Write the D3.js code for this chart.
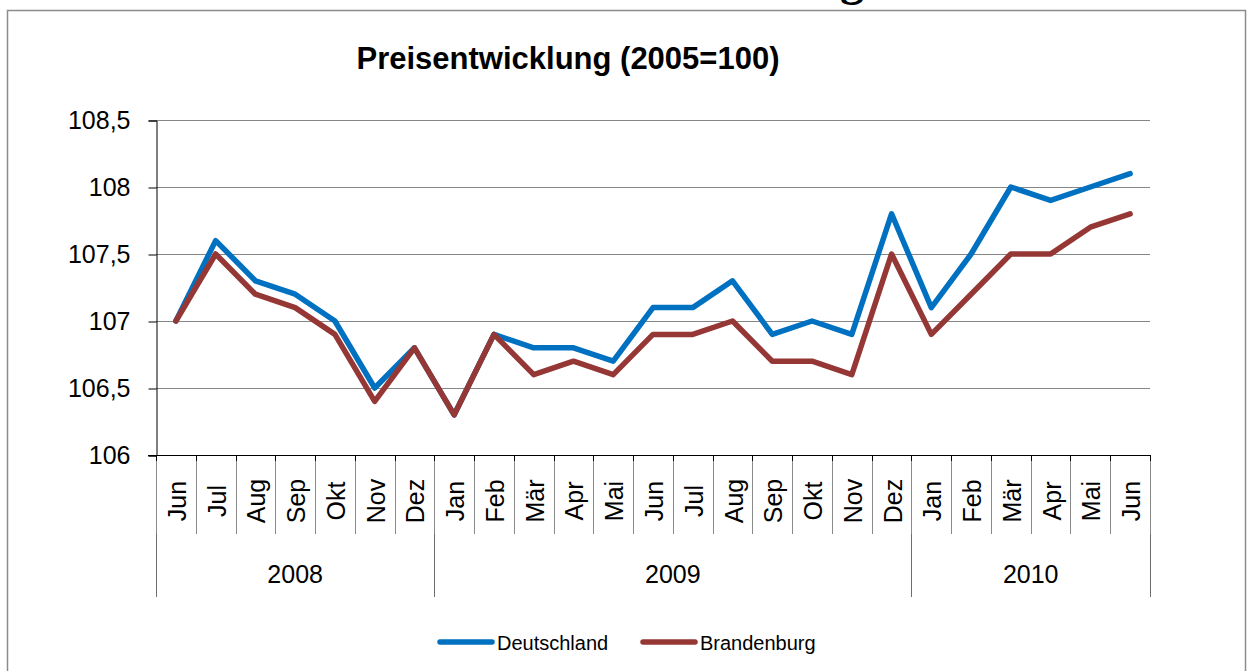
<!DOCTYPE html>
<html>
<head>
<meta charset="utf-8">
<script src="https://cdn.jsdelivr.net/npm/d3@7"></script>
<style>
  body { margin: 0; background: #fff; }
  svg { display: block; font-family: "Liberation Sans", Arial, sans-serif; }
</style>
</head>
<body>
<svg id="chart" width="1247" height="671"></svg>
<script>
// Data
const months = ["Jun","Jul","Aug","Sep","Okt","Nov","Dez",
                "Jan","Feb","Mär","Apr","Mai","Jun","Jul","Aug","Sep","Okt","Nov","Dez",
                "Jan","Feb","Mär","Apr","Mai","Jun"];
const years = [
  { label: "2008", count: 7 },
  { label: "2009", count: 12 },
  { label: "2010", count: 6 }
];
const deutschland = [107.0,107.6,107.3,107.2,107.0,106.5,106.8,
                     106.3,106.9,106.8,106.8,106.7,107.1,107.1,107.3,106.9,107.0,106.9,107.8,
                     107.1,107.5,108.0,107.9,108.0,108.1];
const brandenburg = [107.0,107.5,107.2,107.1,106.9,106.4,106.8,
                     106.3,106.9,106.6,106.7,106.6,106.9,106.9,107.0,106.7,106.7,106.6,107.5,
                     106.9,107.2,107.5,107.5,107.7,107.8];
const yTicks = [106, 106.5, 107, 107.5, 108, 108.5];
const series = [
  { name: "Deutschland", values: deutschland, colour: "#0070C0" },
  { name: "Brandenburg", values: brandenburg, colour: "#953735" }
];

const svg = d3.select("#chart");

// cut-off heading above the chart frame (only the descender shows)
svg.append("text")
    .attr("x", 864)
    .attr("y", -5)
    .attr("text-anchor", "end")
    .attr("font-family", "Liberation Serif, Times New Roman, serif")
    .attr("font-weight", "bold")
    .attr("font-size", 48)
    .text("Preisentwicklung");

// chart frame
svg.append("rect")
    .attr("x", 7.5).attr("y", 10.5)
    .attr("width", 1238).attr("height", 680)
    .attr("fill", "none")
    .attr("stroke", "#8c8c8c")
    .attr("stroke-width", 1.5);

// title
svg.append("text")
    .attr("x", 568)
    .attr("y", 69)
    .attr("text-anchor", "middle")
    .attr("font-weight", "bold")
    .attr("font-size", 31)
    .text("Preisentwicklung (2005=100)");

const plotLeft = 156, plotRight = 1150, plotTop = 120, plotBottom = 455;

const x = d3.scaleBand()
    .domain(d3.range(months.length))
    .range([plotLeft, plotRight]);

const y = d3.scaleLinear()
    .domain([106, 108.5])
    .range([plotBottom, plotTop]);

// gridlines
svg.append("g")
    .selectAll("line")
    .data(yTicks.slice(1))
    .enter().append("line")
    .attr("x1", plotLeft).attr("x2", plotRight)
    .attr("y1", d => Math.round(y(d)) + 0.5)
    .attr("y2", d => Math.round(y(d)) + 0.5)
    .attr("stroke", "#868686")
    .attr("stroke-width", 1.2);

// y axis
const yAxis = svg.append("g")
    .attr("transform", "translate(" + (plotLeft + 0.5) + ",0.5)")
    .call(d3.axisLeft(y)
        .tickValues(yTicks)
        .tickSize(8)
        .tickPadding(18)
        .tickFormat(d => String(d).replace(".", ",")));
yAxis.select(".domain").attr("stroke", "#000");
yAxis.selectAll(".tick line").attr("stroke", "#000");
yAxis.selectAll(".tick text")
    .attr("font-size", 25)
    .attr("font-family", "Liberation Sans, Arial, sans-serif")
    .attr("fill", "#000");

// x axis line
svg.append("line")
    .attr("x1", plotLeft - 8).attr("x2", plotRight)
    .attr("y1", plotBottom + 0.5).attr("y2", plotBottom + 0.5)
    .attr("stroke", "#000");

// month separators
const boundaries = d3.range(months.length + 1).map(i => plotLeft + i * x.step());
svg.append("g")
    .selectAll("line")
    .data(boundaries)
    .enter().append("line")
    .attr("x1", d => Math.round(d) + 0.5).attr("x2", d => Math.round(d) + 0.5)
    .attr("y1", plotBottom).attr("y2", 534)
    .attr("stroke", "#8a8a8a");
svg.append("g")
    .selectAll("line")
    .data(boundaries)
    .enter().append("line")
    .attr("x1", d => Math.round(d) + 0.5).attr("x2", d => Math.round(d) + 0.5)
    .attr("y1", plotBottom).attr("y2", plotBottom + 6)
    .attr("stroke", "#000");

// month labels
svg.append("g")
    .selectAll("text")
    .data(months)
    .enter().append("text")
    .attr("transform", (d, i) => "translate(" + (x(i) + x.bandwidth() / 2 + 1) + ",501) rotate(-90)")
    .attr("text-anchor", "middle")
    .attr("dominant-baseline", "central")
    .attr("font-size", 25)
    .text(d => d);

// year groups
let start = 0;
const yearPos = years.map(g => {
  const p = { label: g.label, x0: plotLeft + start * x.step(), x1: plotLeft + (start + g.count) * x.step() };
  start += g.count;
  return p;
});
const yearBounds = [yearPos[0].x0].concat(yearPos.map(p => p.x1));
svg.append("g")
    .selectAll("line")
    .data(yearBounds)
    .enter().append("line")
    .attr("x1", d => Math.round(d) + 0.5).attr("x2", d => Math.round(d) + 0.5)
    .attr("y1", 534).attr("y2", 597)
    .attr("stroke", "#6e6e6e");
svg.append("g")
    .selectAll("text")
    .data(yearPos)
    .enter().append("text")
    .attr("x", d => (d.x0 + d.x1) / 2)
    .attr("y", 583)
    .attr("text-anchor", "middle")
    .attr("font-size", 25)
    .text(d => d.label);

// lines
const line = d3.line()
    .x((d, i) => x(i) + x.bandwidth() / 2)
    .y(d => y(d));

svg.append("g")
    .selectAll("path")
    .data(series)
    .enter().append("path")
    .attr("d", d => line(d.values))
    .attr("fill", "none")
    .attr("stroke", d => d.colour)
    .attr("stroke-width", 5.5)
    .attr("stroke-linejoin", "round")
    .attr("stroke-linecap", "round");

// legend
const legendX = [440, 643];
const legend = svg.append("g")
    .selectAll("g")
    .data(series)
    .enter().append("g")
    .attr("transform", (d, i) => "translate(" + legendX[i] + ",642)");
legend.append("line")
    .attr("x1", 0).attr("x2", 52)
    .attr("stroke", d => d.colour)
    .attr("stroke-width", 5.5)
    .attr("stroke-linecap", "round");
legend.append("text")
    .attr("x", 57)
    .attr("y", 8)
    .attr("font-size", 20)
    .text(d => d.name);
</script>
</body>
</html>
